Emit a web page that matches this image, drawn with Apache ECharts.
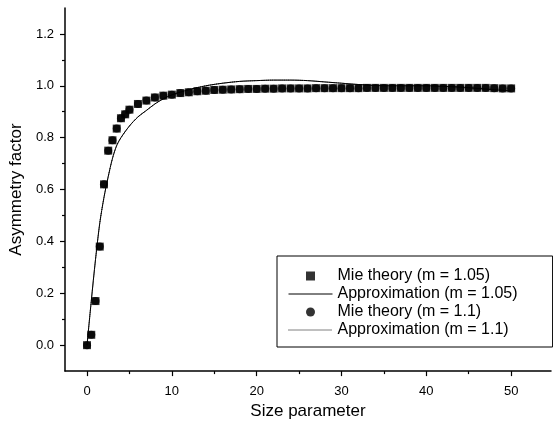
<!DOCTYPE html>
<html><head><meta charset="utf-8">
<script src="https://cdn.jsdelivr.net/npm/echarts@6/dist/echarts.min.js"></script>
<style>html,body{margin:0;padding:0;background:#fff}#c{width:553px;height:425px}</style>
</head><body><div id="c"></div>
<script>
// Mie theory sample points (size parameter, asymmetry factor)
const mieX = [0,0.5,1,1.5,2,2.5,3,3.5,4,4.5,5,6,7,8,9,10,11,12,13,14,15,16,17,18,19,20,21,22,23,24,25,26,27,28,29,30,31,32,33,34,35,36,37,38,39,40,41,42,43,44,45,46,47,48,49,50];
const mie105 = [0,0.04,0.17,0.38,0.62,0.75,0.79,0.835,0.875,0.89,0.908,0.93,0.943,0.955,0.962,0.966,0.972,0.975,0.979,0.981,0.984,0.985,0.986,0.987,0.988,0.988,0.989,0.989,0.99,0.99,0.99,0.99,0.991,0.991,0.991,0.991,0.991,0.991,0.992,0.992,0.992,0.992,0.992,0.992,0.992,0.992,0.992,0.992,0.992,0.992,0.992,0.992,0.992,0.991,0.99,0.99];
const mie11 = mie105;
// Approximation curves
const apxX = [0,0.5,1,1.5,2,2.5,3,3.5,4,5,6,7,8,9,10,12,14,16,18,20,22,24,26,28,30,32,35,38,40,42,44,46,48,50];
const apx105 = [0,0.17,0.33,0.47,0.57,0.65,0.72,0.77,0.80,0.845,0.88,0.905,0.93,0.95,0.965,0.985,1.0,1.01,1.017,1.02,1.022,1.022,1.02,1.015,1.01,1.005,1.0,1.0,1.0,0.998,0.995,0.99,0.985,0.98];
const apx11 = apx105;
const xMajor = [0,10,20,30,40,50];
const xMinor = [5,15,25,35,45];
const yMajor = [0,0.2,0.4,0.6,0.8,1.0,1.2];
const yMinor = [0.1,0.3,0.5,0.7,0.9,1.1];
const names = ['Mie theory (m = 1.05)','Approximation (m = 1.05)','Mie theory (m = 1.1)','Approximation (m = 1.1)'];

const zip = (xs, ys) => xs.map((x, i) => [x, ys[i]]);
const FONT = 'Liberation Sans, Arial, sans-serif';
const XMIN = -2.6, XMAX = 54.7, YMIN = -0.1, YMAX = 1.3;
const chart = echarts.init(document.getElementById('c'), null, {renderer: 'canvas'});
const axisLine = {show: true, onZero: false, lineStyle: {color: '#000', width: 1.5}};
const hiddenSym = {color: 'rgba(0,0,0,0)', borderWidth: 0, opacity: 0};
chart.setOption({
  animation: false,
  backgroundColor: '#fff',
  grid: {left: 64.5, right: 2, top: 8, bottom: 52},
  legend: {
    orient: 'vertical', left: 277, top: 256,
    borderColor: '#000', borderWidth: 1,
    padding: [12, 35, 9, 11],
    itemWidth: 44, itemHeight: 9, itemGap: 2,
    textStyle: {fontFamily: FONT, fontSize: 16, color: '#000', lineHeight: 15},
    data: [
      {name: names[0], icon: 'path://M0,0L10,0L10,10L0,10Z'},
      {name: names[1], itemStyle: hiddenSym, lineStyle: {width: 1, color: '#000'}},
      {name: names[2], icon: 'circle'},
      {name: names[3], itemStyle: hiddenSym, lineStyle: {width: 1, color: '#000', type: [1, 1]}}
    ]
  },
  xAxis: [{
    type: 'value', min: XMIN, max: XMAX,
    name: 'Size parameter', nameLocation: 'middle', nameGap: 31,
    nameTextStyle: {fontFamily: FONT, fontSize: 17, color: '#000'},
    axisLine: axisLine, splitLine: {show: false},
    axisTick: {show: true, length: 5, lineStyle: {color: '#000', width: 1.2}, customValues: xMajor},
    axisLabel: {fontFamily: FONT, fontSize: 13, color: '#000', margin: 14, customValues: xMajor}
  }, {
    type: 'value', min: XMIN, max: XMAX, position: 'bottom', gridIndex: 0,
    axisLine: {show: false, onZero: false}, splitLine: {show: false},
    axisTick: {show: true, length: 3, lineStyle: {color: '#000', width: 1.2}, customValues: xMinor},
    axisLabel: {show: false}
  }],
  yAxis: [{
    type: 'value', min: YMIN, max: YMAX,
    name: 'Asymmetry factor', nameLocation: 'middle', nameGap: 38, nameRotate: 90,
    nameTextStyle: {fontFamily: FONT, fontSize: 17, color: '#000'},
    axisLine: axisLine, splitLine: {show: false},
    axisTick: {show: true, length: 5, lineStyle: {color: '#000', width: 1.2}, customValues: yMajor},
    axisLabel: {fontFamily: FONT, fontSize: 13, color: '#000', margin: 11, customValues: yMajor,
      formatter: v => v.toFixed(1)}
  }, {
    type: 'value', min: YMIN, max: YMAX, position: 'left', gridIndex: 0,
    axisLine: {show: false, onZero: false}, splitLine: {show: false},
    axisTick: {show: true, length: 3, lineStyle: {color: '#000', width: 1.2}, customValues: yMinor},
    axisLabel: {show: false}
  }],
  series: [
    {name: names[0], type: 'scatter', symbol: 'rect', symbolSize: 8, itemStyle: {color: '#000'}, data: zip(mieX, mie105), z: 3},
    {name: names[1], type: 'line', symbol: 'none', smooth: 0.3, lineStyle: {color: '#000', width: 1}, itemStyle: {color: '#000'}, data: zip(apxX, apx105), z: 2},
    {name: names[2], type: 'scatter', symbol: 'circle', symbolSize: 8, itemStyle: {color: '#000'}, data: zip(mieX, mie11), z: 2},
    {name: names[3], type: 'line', symbol: 'none', smooth: 0.3, lineStyle: {color: '#000', width: 1, type: 'dotted'}, itemStyle: {color: '#000'}, data: zip(apxX, apx11), z: 2}
  ]
});
</script></body></html>
